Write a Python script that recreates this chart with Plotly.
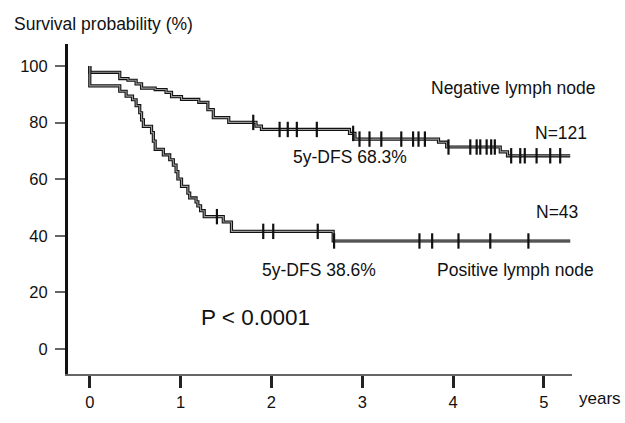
import numpy as np
import plotly.graph_objects as go

# ---- data ----
neg_times = [0, 0, 0.33, 0.42, 0.51, 0.57, 0.72, 0.84, 0.90, 1.01, 1.20, 1.30, 1.36, 1.53,
             1.83, 1.89, 2.86, 2.92, 3.84, 3.93, 4.52, 4.60]
neg_surv = [100, 97.8, 95.6, 95.0, 93.7, 92.2, 91.7, 90.7, 89.2, 88.2, 87.2, 84.6, 81.8, 80.1,
            78.8, 77.6, 76.2, 74.2, 73.1, 71.4, 69.7, 68.3]
neg_censor = [1.80, 2.09, 2.18, 2.28, 2.50, 2.90, 2.97, 3.08, 3.21, 3.43, 3.56, 3.62, 3.69,
              3.95, 4.19, 4.26, 4.30, 4.37, 4.42, 4.46, 4.64, 4.74, 4.79, 4.92, 5.07, 5.18]

pos_times = [0, 0, 0.33, 0.40, 0.47, 0.51, 0.55, 0.57, 0.59, 0.68, 0.70, 0.72, 0.81, 0.88,
             0.92, 0.95, 0.97, 1.01, 1.08, 1.10, 1.17, 1.19, 1.22, 1.26, 1.47, 1.56, 2.68]
pos_surv = [100, 93.0, 91.1, 89.4, 88.1, 86.0, 83.5, 81.0, 78.7, 76.5, 73.5, 70.6, 68.6, 66.9,
            65.0, 62.7, 60.1, 57.5, 55.1, 53.4, 52.0, 50.6, 48.9, 46.8, 44.9, 41.6, 38.2]
pos_censor = [1.40, 1.91, 2.02, 2.51, 2.69, 3.63, 3.77, 4.06, 4.41, 4.83]

follow_end = 5.29
x_ticks = [0, 1, 2, 3, 4, 5]
y_ticks = [0, 20, 40, 60, 80, 100]


def curve(times, surv):
    return list(times) + [follow_end], list(surv) + [surv[-1]]


def at(times, surv, ts):
    idx = np.searchsorted(np.array(times), np.array(ts), side="right") - 1
    return [surv[i] for i in idx]


fig = go.Figure()
for times, surv, cens in [(neg_times, neg_surv, neg_censor), (pos_times, pos_surv, pos_censor)]:
    cx, cy = curve(times, surv)
    fig.add_trace(go.Scatter(x=cx, y=cy, mode="lines", line=dict(shape="hv", color="#111", width=3.2),
                             hoverinfo="skip", showlegend=False))
    fig.add_trace(go.Scatter(x=cx, y=cy, mode="lines", line=dict(shape="hv", color="#9a9a9a", width=1.1),
                             hoverinfo="skip", showlegend=False))
    fig.add_trace(go.Scatter(x=cens, y=at(times, surv, cens), mode="markers",
                             marker=dict(symbol="line-ns-open", size=11, color="#111",
                                         line=dict(color="#111", width=2.2)),
                             hoverinfo="skip", showlegend=False))

FONT = "Liberation Sans, Arial, sans-serif"
texts = [
    ("Negative lymph node", 4.66, 92.2, 17.5),
    ("N=121", 5.19, 76.4, 17.5),
    ("5y-DFS 68.3%", 2.87, 67.9, 17.5),
    ("N=43", 5.14, 48.3, 17.5),
    ("5y-DFS 38.6%", 2.52, 28.0, 17.5),
    ("Positive lymph node", 4.69, 28.0, 17.5),
    ("P < 0.0001", 1.83, 11.1, 22.5),
]
for t, x, y, s in texts:
    fig.add_annotation(text=t, x=x, y=y, xref="x", yref="y", showarrow=False,
                       font=dict(family=FONT, size=s, color="#111"))

fig.add_annotation(text="Survival probability (%)", x=-0.111, y=1.061, xref="paper", yref="paper",
                   xanchor="left", yanchor="middle", showarrow=False,
                   font=dict(family=FONT, size=17.5, color="#111"))
fig.add_annotation(text="years", x=1.101, y=-0.075, xref="paper", yref="paper",
                   xanchor="right", yanchor="middle", showarrow=False,
                   font=dict(family=FONT, size=17, color="#111"))

fig.update_layout(
    width=625, height=423,
    margin=dict(l=68, r=53, t=44, b=34),
    paper_bgcolor="white", plot_bgcolor="white",
    font=dict(family=FONT, color="#111"),
    xaxis=dict(range=[-0.24, 5.31], tickvals=x_ticks, showgrid=False, zeroline=False,
               showline=True, linecolor="#666", linewidth=2.2,
               ticks="outside", ticklen=12, tickwidth=2.5, tickcolor="#222",
               tickfont=dict(family=FONT, size=16.5, color="#111")),
    yaxis=dict(range=[-8.8, 107.8], tickvals=y_ticks, showgrid=False, zeroline=False,
               showline=True, linecolor="#111", linewidth=3,
               ticks="outside", ticklen=10, tickwidth=2.2, tickcolor="#666",
               ticklabelstandoff=4,
               tickfont=dict(family=FONT, size=16.5, color="#111")),
)

fig.write_html("out.html", config={"displayModeBar": False},
               post_script="document.body.style.margin='0';")
